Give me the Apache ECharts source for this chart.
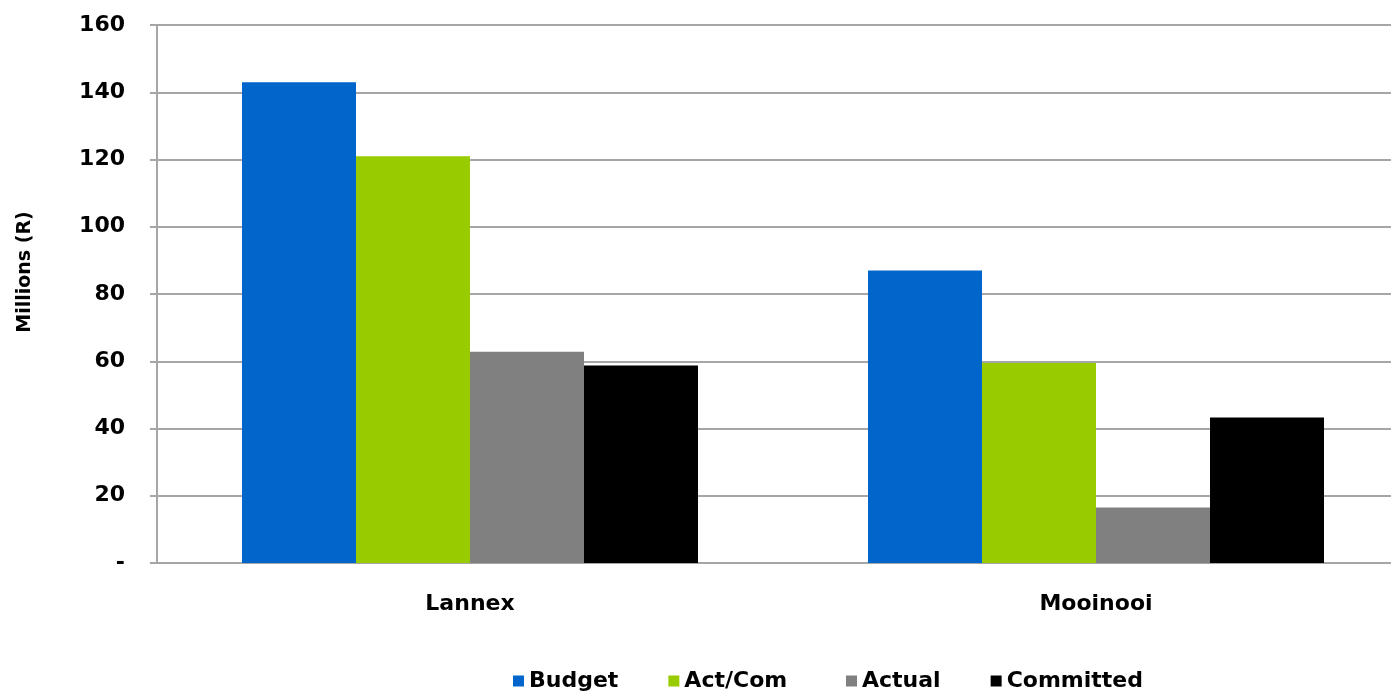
<!DOCTYPE html>
<html>
<head>
<meta charset="utf-8">
<title>Budget vs Actual/Committed</title>
<script src="https://cdn.jsdelivr.net/npm/echarts@6/dist/echarts.min.js"></script>
<style>
  html, body { margin: 0; padding: 0; background: #ffffff; overflow: hidden; }
  /* the plot area runs a little past the right edge of the page */
  #chart { width: 1409px; height: 694px; }
</style>
</head>
<body>
<div id="chart"></div>
<script>
// Projects on the category axis
const categories = ['Lannex', 'Mooinooi'];

// Values in millions of rand
const budget    = [143.0, 87.0];
const actCom    = [121.0, 59.5];
const actual    = [62.8, 16.5];
const committed = [58.7, 43.3];

const seriesNames = ['Budget', 'Act/Com', 'Actual', 'Committed'];
const yTicks = [0, 20, 40, 60, 80, 100, 120, 140, 160];

const colors = ['#0066CC', '#99CC00', '#808080', '#000000'];
const font = 'DejaVu Sans';
const gridGray = '#A6A6A6';

const chart = echarts.init(document.getElementById('chart'));

const seriesData = [budget, actCom, actual, committed];

// Legend row, laid out as two groups along the bottom
function legendGroup(names, left) {
  return {
    data: names,
    left: left,
    top: 670,
    padding: 0,
    icon: 'rect',
    itemWidth: 11,
    itemHeight: 11,
    itemGap: 50,
    textStyle: { fontFamily: font, fontWeight: 'bold', fontSize: 22, color: '#000000' }
  };
}

chart.setOption({
  animation: false,
  backgroundColor: '#ffffff',
  color: colors,
  grid: { left: 157, top: 25, width: 1252, height: 538, containLabel: false },
  legend: [
    legendGroup(seriesNames.slice(0, 2), 513),
    legendGroup(seriesNames.slice(2), 846)
  ],
  xAxis: {
    type: 'category',
    data: categories,
    axisLine: { lineStyle: { color: gridGray, width: 2 } },
    axisTick: { show: false },
    axisLabel: { margin: 30, fontFamily: font, fontWeight: 'bold', fontSize: 22, color: '#000000' }
  },
  yAxis: {
    type: 'value',
    min: yTicks[0],
    max: yTicks[yTicks.length - 1],
    interval: yTicks[1] - yTicks[0],
    name: 'Millions (R)',
    nameLocation: 'middle',
    nameGap: 122,
    nameTextStyle: { fontFamily: font, fontWeight: 'bold', fontSize: 19, color: '#000000', padding: [0, 0, 0, 44] },
    axisLine: { show: true, lineStyle: { color: gridGray, width: 2 } },
    axisTick: { show: true, length: 7, lineStyle: { color: gridGray, width: 2 } },
    axisLabel: {
      margin: 32,
      fontFamily: font, fontWeight: 'bold', fontSize: 22, color: '#000000',
      formatter: v => (v === 0 ? '-' : String(v))
    },
    splitLine: { show: true, lineStyle: { color: gridGray, width: 2 } }
  },
  series: seriesNames.map((name, i) => ({
    name: name,
    type: 'bar',
    data: seriesData[i],
    barWidth: 114,
    barGap: '0%',
    itemStyle: { color: colors[i] }
  }))
});
</script>
</body>
</html>
